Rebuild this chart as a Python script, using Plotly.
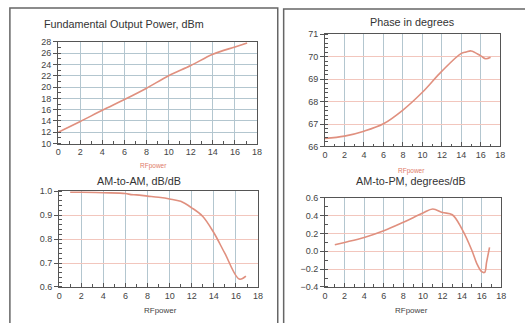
import plotly.graph_objects as go

W, H = 525, 323

# ---- data ----
pout_x = [0, 2, 4, 6, 8, 10, 12, 14, 16, 17.1]
pout_y = [12.0, 13.9, 15.9, 17.8, 19.8, 22.0, 23.8, 25.8, 27.1, 27.8]

amam_x = [1, 2, 4, 6, 6.5, 7, 8, 9, 10, 11, 12, 13, 14, 15, 16.3, 16.9]
amam_y = [0.995, 0.995, 0.993, 0.99, 0.985, 0.984, 0.979, 0.974, 0.967, 0.957, 0.93, 0.894, 0.826, 0.74, 0.633, 0.645]

phase_x = [0, 2, 4, 6, 8, 10, 12, 14, 14.5, 15, 16, 16.5, 17]
phase_y = [66.36, 66.46, 66.68, 67.01, 67.62, 68.41, 69.35, 70.14, 70.2, 70.25, 70.03, 69.9, 69.97]

ampm_x = [1, 2, 4, 6, 8, 10, 11, 12, 13, 14, 15, 15.5, 16, 16.3, 16.5, 16.8]
ampm_y = [0.074, 0.1, 0.155, 0.23, 0.326, 0.43, 0.475, 0.435, 0.41, 0.246, 0.01, -0.137, -0.228, -0.236, -0.12, 0.045]

titles = ["Fundamental Output Power, dBm", "AM-to-AM, dB/dB", "Phase in degrees", "AM-to-PM, degrees/dB"]
xlabel = "RFpower"

LINE = "#e0907f"
GRID_BLUE = "#b3c6cf"
GRID_PINK = "#f2c6bd"
AX = "#555555"
FONT = "Liberation Sans, Arial, sans-serif"

def fx(px):
    return px / W

def fy(py):
    return 1 - py / H

fig = go.Figure()
series = [(pout_x, pout_y), (amam_x, amam_y), (phase_x, phase_y), (ampm_x, ampm_y)]
for i, (xs, ys) in enumerate(series):
    sfx = "" if i == 0 else str(i + 1)
    fig.add_trace(go.Scatter(x=xs, y=ys, mode="lines", line=dict(color=LINE, width=1.6),
                             xaxis="x" + sfx, yaxis="y" + sfx, showlegend=False,
                             line_shape="spline", hoverinfo="skip"))

# domains in pixels: (x0, x1, ytop, ybottom)
doms = [(56, 258, 38, 143), (57, 259, 192, 291), (327, 505, 30, 146), (327, 506, 199, 291)]
yranges = [(10, 28, 2, 1, GRID_BLUE, None), (0.6, 1.0, 0.1, 0.02, GRID_PINK, ".1f"),
           (66, 71, 1, 0.2, GRID_PINK, None), (-0.4, 0.6, 0.2, 0.1, GRID_PINK, ".1f")]

layout = {}
for i in range(4):
    x0, x1, yt, yb = doms[i]
    lo, hi, dt, mdt, hgrid, fmt = yranges[i]
    xs = "xaxis" if i == 0 else "xaxis%d" % (i + 1)
    ys = "yaxis" if i == 0 else "yaxis%d" % (i + 1)
    anc_x = "x" if i == 0 else "x%d" % (i + 1)
    anc_y = "y" if i == 0 else "y%d" % (i + 1)
    layout[xs] = dict(domain=[fx(x0), fx(x1)], anchor=anc_y, range=[0, 18], dtick=2,
                      showgrid=True, gridcolor=GRID_BLUE, gridwidth=1,
                      showline=True, linecolor=AX, linewidth=1, mirror=True,
                      ticks="inside", ticklen=4, tickcolor=AX,
                      minor=dict(dtick=1, ticks="inside", ticklen=2.5, tickcolor=AX, showgrid=False),
                      tickfont=dict(size=9, color="#444", family=FONT), zeroline=False)
    yd = dict(domain=[fy(yb), fy(yt)], anchor=anc_x, range=[lo, hi], dtick=dt,
              showgrid=True, gridcolor=hgrid, gridwidth=1,
              showline=True, linecolor=AX, linewidth=1, mirror=True,
              ticks="outside", ticklen=4, tickcolor=AX,
              minor=dict(dtick=mdt, ticks="inside", ticklen=2.5, tickcolor=AX, showgrid=False),
              tickfont=dict(size=9, color="#444", family=FONT), zeroline=False)
    if fmt:
        yd["tickformat"] = fmt
    layout[ys] = yd

fig.update_layout(**layout)

ann = []
title_pos = [(40, 20, "left"), (138, 182, "center"), (416, 18, "center"), (414, 182, "center")]
for t, (px, py, xa) in zip(titles, title_pos):
    ann.append(dict(text=t, x=fx(px), y=fy(py), xref="paper", yref="paper", xanchor=xa,
                    yanchor="middle", showarrow=False, font=dict(size=10.8, color="#333", family=FONT)))
for (px, py) in [(153, 166), (415, 171)]:
    ann.append(dict(text=xlabel, x=fx(px), y=fy(py), xref="paper", yref="paper", xanchor="center",
                    yanchor="middle", showarrow=False, font=dict(size=6.5, color="#e07a68", family=FONT)))
for (px, py) in [(160, 315), (415, 315)]:
    ann.append(dict(text=xlabel, x=fx(px), y=fy(py), xref="paper", yref="paper", xanchor="center",
                    yanchor="middle", showarrow=False, font=dict(size=8, color="#444", family=FONT)))

shapes = [
    dict(type="rect", xref="paper", yref="paper", x0=fx(7), x1=fx(279), y0=fy(330), y1=fy(3),
         line=dict(color="#666", width=1.5)),
    dict(type="rect", xref="paper", yref="paper", x0=fx(285), x1=fx(535), y0=fy(330), y1=fy(4),
         line=dict(color="#666", width=1.5)),
]

fig.update_layout(width=W, height=H, margin=dict(l=0, r=0, t=0, b=0),
                  paper_bgcolor="white", plot_bgcolor="white",
                  annotations=ann, shapes=shapes, showlegend=False)

fig.write_html("out.html", config={"displayModeBar": False},
               post_script="document.body.style.margin='0';document.body.style.overflow='hidden';")
